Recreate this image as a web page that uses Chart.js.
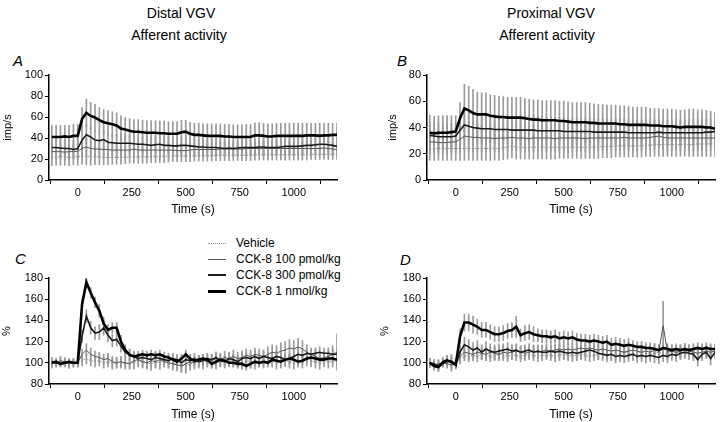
<!DOCTYPE html>
<html>
<head>
<meta charset="utf-8">
<script src="https://cdn.jsdelivr.net/npm/chart.js@4.4.1/dist/chart.umd.min.js"></script>
<style>
  body { margin: 0; width: 720px; height: 422px; position: relative; background: #fff; overflow: hidden;
         font-family: "Liberation Sans", Arial, sans-serif; color: #000; }
  canvas { position: absolute; }
  .head { position: absolute; font-size: 14px; line-height: 14px; white-space: nowrap; transform: translateX(-50%); }
  .tag { position: absolute; font-size: 15px; line-height: 15px; font-style: italic; }
  .legend { position: absolute; left: 208px; top: 235px; font-size: 12px; }
  .legend div { height: 16px; line-height: 16px; display: flex; align-items: center; }
  .legend span.sw { display: inline-block; width: 18px; margin-right: 10px; }
</style>
</head>
<body>
<div class="head" style="left:181px;top:6px">Distal VGV</div>
<div class="head" style="left:179px;top:28px">Afferent activity</div>
<div class="head" style="left:551px;top:6px">Proximal VGV</div>
<div class="head" style="left:547px;top:28px">Afferent activity</div>
<div class="tag" style="left:13px;top:53px">A</div>
<div class="tag" style="left:397px;top:53px">B</div>
<div class="tag" style="left:15px;top:251px">C</div>
<div class="tag" style="left:400px;top:252px">D</div>
<div class="legend" id="legend"></div>

<canvas id="cA" width="360" height="180" style="left:0;top:50px"></canvas>
<canvas id="cB" width="360" height="180" style="left:360px;top:50px"></canvas>
<canvas id="cC" width="360" height="192" style="left:0;top:230px"></canvas>
<canvas id="cD" width="360" height="192" style="left:360px;top:230px"></canvas>

<script>
// time bins (s)
const TIME = [-120,-100,-80,-60,-40,-20,0,
  20,40,60,80,100,120,140,160,180,200,
  220,240,260,280,300,320,340,360,380,400,
  420,440,460,480,500,520,540,560,580,600,
  620,640,660,680,700,720,740,760,780,800,
  820,840,860,880,900,920,940,960,980,1000,
  1020,1040,1060,1080,1100,1120,1140,1160,1180,1200]

const X_MIN = -133
const X_MAX = 1200
const X_TICKS = [0, 250, 500, 750, 1000]
const Y_TICKS_A = [0, 20, 40, 60, 80, 100]
const Y_TICKS_B = [0, 20, 40, 60, 80]
const Y_TICKS_PCT = [80, 100, 120, 140, 160, 180]

const SERIES = ['Vehicle', 'CCK-8 100 pmol/kg', 'CCK-8 300 pmol/kg', 'CCK-8 1 nmol/kg']

// Panel A: distal, imp/s
const A_VEH = [21.5,22,22,22,21.5,22,22,
  23,22.5,22,22,22,21.5,21.5,21.5,21.5,21.5,
  21.5,22,22,22,22,22,22.5,22.5,22.5,22.5,
  22.5,23,23,23,23,23,23,23,23,23,
  23,23.5,23.5,23.5,23.5,23.5,23.5,23.5,23.5,23.5,
  24,24,24,24,24,24,24,24,24,24,
  24,24,24,24.5,24.5,24.5,24.5,24.5,24.5,24.5]
const A_VEH_SEM = [8,8,8,8,8,7.5,8,
  8,8,8,7.5,7.5,7,7,6.5,6.5,6.5,
  6,6,6,6,6,6,6,6,6,6,
  5.5,5.5,5.5,5.5,5.5,5.5,5,5,5,5,
  5,5,5,5,5,5,5,5,5,5,
  5,5,5,5,5,5,5,5,5,5,
  5,5,5,5,5,5,5,5,5,5]
const A_P100 = [27,27,27,26.5,27,27,27.5,
  30,31.5,30,29.5,29.5,29,29,28.5,28.5,28.5,
  28.5,28.5,29.5,28.5,28.5,28.5,28.5,28.5,28.5,28.5,
  28.5,28.5,28,28,28,28.5,29,29,29,29,
  29,29,29.5,29.5,29.5,29.5,29.5,29.5,30,30,
  30,30,30,30,30,30,30,30,30,30,
  30,30,30,30,30,30,30.5,30,29.5,29]
const A_P100_SEM = [7,7,7,7,7,7,7,
  7.5,8,8,7.5,7.5,7.5,7.5,7,7,7,
  7,7,7,7,7,7,7,7,7,7,
  6.5,6.5,6.5,6.5,6.5,6.5,6.5,6.5,6.5,6.5,
  6.5,6.5,6.5,6.5,6.5,6.5,6.5,6.5,6.5,6.5,
  6.5,6.5,6.5,6.5,6.5,6.5,6.5,6.5,6.5,6.5,
  6.5,6.5,6.5,6.5,6.5,6.5,6.5,6.5,6.5,6.5]
const A_P300 = [31,31,30.5,30,30,29,30,
  38,43,41,38,37.5,38.5,36,35.5,35,35,
  35,35,34.5,34,34,33.5,33,33.5,34,33,
  33,32.5,32.5,33,33,32.5,32,31.5,31.5,31,
  31,31,30.5,30,30.5,30,30.5,31,31,31,
  31,31.5,31.5,31,31,31,31.5,32,32,32,
  32,32.5,33,33,33.5,34,34,33.5,33,32]
const A_P300_SEM = [8,8,8,8,8,8,8,
  9,10,10,9,9,9,9,8.5,8.5,8.5,
  8,8,8,8,8,8,8,8,8,8,
  8,8,8,8,8,8,8,7.5,7.5,7.5,
  7.5,7.5,7.5,7.5,7.5,7.5,7.5,7.5,7.5,7.5,
  7.5,7.5,7.5,7.5,7.5,7.5,7.5,7.5,7.5,7.5,
  7.5,7.5,7.5,7.5,7.5,7.5,7.5,7.5,7.5,7.5]
const A_N1 = [41,41,41,41.5,41,42,42,
  58,64,61,59.5,57,55,54,53,52,49,
  48,47,46,46,45.5,45,45,45,44.5,44.5,
  44,44,44,45.5,46,44,43,43,42.5,42,
  42,42,42,41.5,41.5,41,41,41,41,41,
  42.5,42.5,42,41.5,41.5,42,42,42,42,42,
  42,42,42.5,42.5,42.5,42,42.5,42.5,43,43]
const A_N1_SEM = [11,11,11,10.5,11,11,11,
  11,13,13,12.5,12,12,12,12,12,12,
  11.5,11.5,11.5,11.5,11.5,11.5,11.5,11.5,11.5,11.5,
  11.5,11.5,11.5,11.5,11,11,11,11,11,11.5,
  11.5,11.5,11.5,11.5,11.5,11.5,11.5,11.5,12,12,
  12,12,12,12,12,12,12,12,12,12,
  12,12,11.5,11.5,11.5,12,11.5,11.5,11,11]

// Panel B: proximal, imp/s
const B_VEH = [23.5,23.5,24,24,24,24,24,
  24,24,24,24,24,24,24,24,24,24,
  24.5,25,26,25,25,25,25,25,25,25,
  25,25,25,25,25,25,25,25,25,25,
  25,25,25,25.5,25.5,25.5,26,26,26,26,
  26,26,26,26.5,26.5,27,27,27,27,27,
  27,27,27,27,27,27.5,27.5,27.5,27.5,27.5]
const B_VEH_SEM = [8.5,8.5,9,9,9,9,9,
  9,9,9,9,9,9,9,9,9,9,
  9,9,9,9,9,9,9,9,9,9,
  9,9,9,8.5,8.5,8.5,8.5,8.5,8.5,8.5,
  8.5,8.5,8.5,8.5,8.5,8.5,8.5,8.5,8.5,8.5,
  8.5,8.5,8.5,8.5,8.5,9,9,9,9,9,
  9,9,9,9,9,9.5,9.5,9.5,9.5,9.5]
const B_P100 = [29,29,28.5,28.5,28.5,29,29,
  31,33.5,33,32.5,32.5,32,32,32,31.5,32,
  32,32,32.5,32,32,32,31.5,32,32,32,
  32,32,31.5,32,32,32,32,32,32,31.5,
  32,32,32,32,32,32,32,32,32.5,32,
  32,32,32,32,32.5,33,33.5,32.5,32,32,
  32,32,32,32,32,32,32,32,32,32]
const B_P100_SEM = [9,9,9,9,9,9,9,
  10,11,11,11,10.5,10.5,10.5,10,10,10,
  10,10,10,10,10,10,10,10,10,10,
  10,10,10,10,10,10,10,10,10,10,
  9.5,9.5,9.5,9.5,9.5,9.5,9.5,9.5,9.5,9.5,
  9.5,9.5,9.5,9.5,9.5,9.5,9.5,9.5,9.5,9.5,
  9.5,9.5,9.5,9.5,9.5,9.5,9.5,9.5,9.5,9.5]
const B_P300 = [34,33.5,33,33,33,33,33.5,
  38,42,41,40,39.5,39,39,39,38.5,38.5,
  38.5,38.5,38,38,38,38,38,38,37.5,37.5,
  37.5,37.5,37.5,37.5,37,37,37,37,37,37,
  37,36.5,36.5,36.5,36.5,36.5,36.5,36.5,36.5,36,
  36,36,36,36,36,36,36.5,36,36,36,
  36,36,36,36,36,36,36,36.5,36.5,37]
const B_P300_SEM = [10,10,10,10,10,10,10,
  11,12,12,12,11.5,11.5,11.5,11,11,11,
  11,11,11,11,11,11,11,11,11,11,
  10.5,10.5,10.5,10.5,10.5,10.5,10.5,10.5,10.5,10.5,
  10.5,10.5,10.5,10.5,10.5,10.5,10.5,10.5,10.5,10.5,
  10,10,10,10,10,10,10,10,10,10,
  10,10,10,10,10,10,10,10,10,10]
const B_N1 = [36,35.5,36,36,36,36.5,37,
  47,54.5,53,51,50,50,50,49,48.5,48,
  48,47.5,47.5,47.5,47.5,47,46.5,46,46,45.5,
  45.5,45.5,45.5,45,45,44.5,44,44,44,44,
  43.5,43.5,43,43,43,43,43,42.5,42.5,42,
  42,42,42,42,41.5,41.5,41.5,41,41,41,
  40.5,40,40.5,40.5,40.5,40.5,40.5,40,40,39]
const B_N1_SEM = [13.5,13,13,13,13,12.5,12,
  12,18.5,18.5,18,17,16.5,16.5,16,16,16,
  15.5,15.5,15.5,15.5,15.5,15,15,15,15,15,
  15,15,15,15,15,15,15,15,15,15,
  15,14.5,14.5,14.5,14,14,14,14,14,14,
  13.5,13.5,13.5,13.5,13,13,13,13,13,13,
  13,13,13,13.5,13.5,13,13,13,12.5,12.5]

// Panel C: distal, % of baseline
const C_VEH = [99,100,101,100,99,100,100,
  102,104,102,101,102,100,101,99,100,100,
  99,101,100,102,101,100,99,101,100,102,
  101,99,100,98,97,99,100,101,100,102,
  101,100,102,101,103,102,101,100,102,101,
  100,102,101,103,102,100,101,102,101,100,
  102,101,103,102,101,100,102,101,102,101]
const C_VEH_SEM = [4,4,4,4,4,4,4,
  5,5,5,5,5,5,5,5,5,5,
  5,6,6,6,6,6,6,6,6,6,
  6,6,6,7,7,6,6,6,6,6,
  6,6,6,6,6,6,6,6,6,6,
  6,6,6,6,6,6,6,6,6,6,
  6,6,6,6,6,6,6,6,6,6]
const C_P100 = [101,100,102,101,99,100,100,
  108,112,108,106,105,103,104,101,100,101,
  100,99,102,103,101,100,102,101,103,101,
  100,99,98,97,99,101,100,102,103,101,
  102,104,103,105,104,106,104,105,107,106,
  108,107,106,108,110,109,111,112,114,113,
  115,113,110,108,106,104,105,106,108,110]
const C_P100_SEM = [4,4,4,4,4,4,4,
  5,6,6,5,5,5,5,5,5,5,
  5,5,5,5,5,5,5,5,5,5,
  5,5,6,6,6,5,5,5,5,5,
  6,6,6,6,6,6,6,6,6,6,
  6,6,6,7,7,7,8,8,8,8,
  8,8,7,6,6,6,6,6,8,17]
const C_P300 = [100,100,99,100,101,100,100,
  125,144,133,128,129,133,126,121,122,116,
  110,108,106,104,105,104,103,105,104,103,
  102,104,103,100,103,102,104,101,102,104,
  103,105,102,101,104,103,101,104,105,104,
  106,104,106,105,104,106,105,103,104,106,
  108,107,109,108,109,110,109,109,108,108]
const C_P300_SEM = [3,3,3,3,3,3,3,
  6,6,6,6,7,7,6,6,6,6,
  5,5,5,5,5,5,5,5,5,5,
  5,5,5,5,5,5,5,5,5,5,
  5,5,5,5,5,5,5,5,5,5,
  5,5,5,5,5,5,5,5,5,5,
  5,5,5,5,5,5,5,5,5,5]
const C_N1 = [100,101,99,100,101,100,100,
  155,176,166,157,149,137,131,133,133,120,
  112,107.5,106,107,108,107,108,107,108,106,
  105,103,101,104,108,104,102,103,104,103,
  99,101,103,102,100,100,99,99,97,99,
  101,100,101,100,103,102,101,103,104,103,
  101,102,104,105,104,103,103,104,104,103]
const C_N1_SEM = [2,2,2,2,2,2,2,
  5,4,5,5,6,6,5,5,5,6,
  5,5,4,4,4,4,4,4,4,4,
  4,4,4,4,4,4,4,4,4,4,
  4,4,4,4,4,4,4,4,4,4,
  4,4,4,4,4,4,4,4,4,4,
  4,4,4,4,4,4,4,4,4,4]

// Panel D: proximal, % of baseline
const D_VEH = [100,99,98,100,101,100,100,
  104,107,106,107,106,108,107,106,107,108,
  107,106,108,107,106,107,108,107,106,107,
  108,107,106,107,108,107,106,107,108,107,
  106,107,108,109,108,107,108,109,110,109,
  108,109,110,109,108,109,110,109,108,109,
  110,109,110,111,110,109,110,111,110,111]
const D_VEH_SEM = [4,4,4,4,4,4,4,
  5,5,5,5,5,5,5,5,5,5,
  5,5,5,5,5,5,5,5,5,5,
  5,5,5,5,5,5,5,5,5,5,
  5,5,5,5,5,5,5,5,5,5,
  5,5,5,5,5,5,5,5,5,5,
  5,5,5,5,5,5,5,5,5,5]
const D_P100 = [100,98,99,100,99,98,99,
  106,110,109,108,110,109,108,110,109,108,
  110,109,110,111,110,109,110,111,110,111,
  112,111,112,113,112,113,112,113,114,113,
  114,113,112,113,112,111,112,111,110,111,
  112,111,110,111,110,112,111,135,110,111,
  110,111,112,111,110,109,110,111,110,111]
const D_P100_SEM = [4,4,4,4,4,4,4,
  6,6,6,6,6,6,6,6,6,6,
  6,6,6,6,6,6,6,6,6,6,
  6,6,6,6,6,6,6,6,6,6,
  6,6,6,6,6,6,6,6,6,6,
  6,6,6,6,6,6,6,23,6,6,
  6,6,6,6,6,6,6,6,6,6]
const D_P300 = [100,99,97,101,103,100,99,
  110,117,115,112,114,110,113,111,110,111,
  112,113,111,112,110,111,112,110,111,110,
  110,111,110,111,110,109,110,109,110,111,
  112,111,109,108,107,108,106,107,106,107,
  108,106,107,106,107,106,105,107,106,108,
  107,109,110,109,108,103,108,110,104,110]
const D_P300_SEM = [4,4,5,4,4,8,4,
  7,7,7,7,7,7,7,7,7,7,
  6,6,6,6,6,6,6,6,6,6,
  6,6,6,6,6,6,6,6,6,6,
  6,6,6,6,6,6,6,6,6,6,
  6,6,6,6,6,6,6,6,6,6,
  6,6,6,6,6,6,6,6,6,6]
const D_N1 = [100,97,96,100,102,101,98,
  125,138,138,136,134,131,131,129,127,127,
  128,130,131,134,126,128,129,127,126,125,
  125,124,125,123,124,123,124,122,121,121,
  120,121,120,119,120,117,118,117,116,117,
  116,115,115,114,114,113,112,114,113,112,
  113,112,113,112,113,114,113,114,113,113]
const D_N1_SEM = [4,4,4,3,4,5,4,
  7,8,8,8,7,7,7,7,7,7,
  7,7,7,10,6,7,7,7,6,6,
  6,6,6,6,6,6,6,6,6,6,
  6,6,6,6,6,6,6,6,6,6,
  5,5,5,5,5,5,5,5,5,5,
  5,5,5,5,5,5,5,5,5,5]

const STYLES = [
  { color: '#8c8c8c', width: 1, dash: [1.5, 1.5] },
  { color: '#555', width: 1, dash: [] },
  { color: '#1a1a1a', width: 1.6, dash: [] },
  { color: '#000', width: 2.6, dash: [] },
]

Chart.defaults.font.family = '"Liberation Sans", Arial, sans-serif'
Chart.defaults.color = '#000'

function makePanel(canvasId, means, sems, yTicks, yTitle, box) {
  const datasets = []
  // error bars as thin floating bars, drawn behind the lines
  means.forEach((vals, s) => {
    datasets.push({
      type: 'bar',
      data: TIME.map((t, i) => ({ x: t, y: [vals[i] - sems[s][i], vals[i] + sems[s][i]] })),
      backgroundColor: '#9a9a9a',
      barThickness: 1,
      grouped: false,
      order: 10,
    })
  })
  means.forEach((vals, s) => {
    datasets.push({
      type: 'line',
      label: SERIES[s],
      data: TIME.map((t, i) => ({ x: t, y: vals[i] })),
      borderColor: STYLES[s].color,
      borderWidth: STYLES[s].width,
      borderDash: STYLES[s].dash,
      pointRadius: 0,
      tension: 0,
      order: 4 - s,
    })
  })

  return new Chart(document.getElementById(canvasId), {
    type: 'line',
    data: { datasets },
    options: {
      responsive: false,
      animation: false,
      events: [],
      layout: { padding: { top: box.padTop, right: box.padRight, left: 0, bottom: 0 } },
      plugins: { legend: { display: false }, tooltip: { enabled: false } },
      scales: {
        x: {
          type: 'linear',
          min: X_MIN,
          max: X_MAX,
          offset: false,
          afterBuildTicks: (s) => { s.ticks = X_TICKS.map(v => ({ value: v })) },
          afterFit: (s) => { s.height = box.xHeight },
          grid: { drawOnChartArea: false, tickLength: 4, color: '#000' },
          border: { color: '#000', width: 1.5 },
          ticks: { color: '#000', font: { size: 11 }, padding: 2, maxRotation: 0, autoSkip: false, callback: v => String(v) },
          title: { display: true, text: 'Time (s)', color: '#000', font: { size: 12 }, padding: { top: 0, bottom: box.xTitlePad } },
        },
        y: {
          type: 'linear',
          min: yTicks[0],
          max: yTicks[yTicks.length - 1],
          afterBuildTicks: (s) => { s.ticks = yTicks.map(v => ({ value: v })) },
          afterFit: (s) => { s.width = box.yWidth },
          grid: { drawOnChartArea: false, tickLength: 4, color: '#000' },
          border: { color: '#000', width: 1.5 },
          ticks: { color: '#000', font: { size: 11 }, padding: 2, callback: v => String(v) },
          title: { display: true, text: yTitle, color: '#000', font: { size: 11 }, padding: { top: box.yTitlePad, bottom: 0 } },
        },
      },
    },
  })
}

const LEFT = { padTop: 25, padRight: 23, yWidth: 49, xHeight: 50, xTitlePad: 13, yTitlePad: 1 }
const RIGHT = { padTop: 25, padRight: 5, yWidth: 67, xHeight: 50, xTitlePad: 13, yTitlePad: 26 }

makePanel('cA', [A_VEH, A_P100, A_P300, A_N1], [A_VEH_SEM, A_P100_SEM, A_P300_SEM, A_N1_SEM],
  Y_TICKS_A, 'imp/s', LEFT)
makePanel('cB', [B_VEH, B_P100, B_P300, B_N1], [B_VEH_SEM, B_P100_SEM, B_P300_SEM, B_N1_SEM],
  Y_TICKS_B, 'imp/s', RIGHT)
makePanel('cC', [C_VEH, C_P100, C_P300, C_N1], [C_VEH_SEM, C_P100_SEM, C_P300_SEM, C_N1_SEM],
  Y_TICKS_PCT, '%', { ...LEFT, padTop: 48, xHeight: 38, xTitlePad: 0, yTitlePad: 0 })
makePanel('cD', [D_VEH, D_P100, D_P300, D_N1], [D_VEH_SEM, D_P100_SEM, D_P300_SEM, D_N1_SEM],
  Y_TICKS_PCT, '%', { ...RIGHT, padTop: 48, xHeight: 38, xTitlePad: 0, yTitlePad: 18 })

// legend (sits above panel C)
const legend = document.getElementById('legend')
SERIES.forEach((name, s) => {
  const row = document.createElement('div')
  const sw = document.createElement('span')
  sw.className = 'sw'
  sw.style.borderTop = `${Math.round(STYLES[s].width)}px ${s === 0 ? 'dotted' : 'solid'} ${STYLES[s].color}`
  row.appendChild(sw)
  row.appendChild(document.createTextNode(name))
  legend.appendChild(row)
})
</script>
</body>
</html>
